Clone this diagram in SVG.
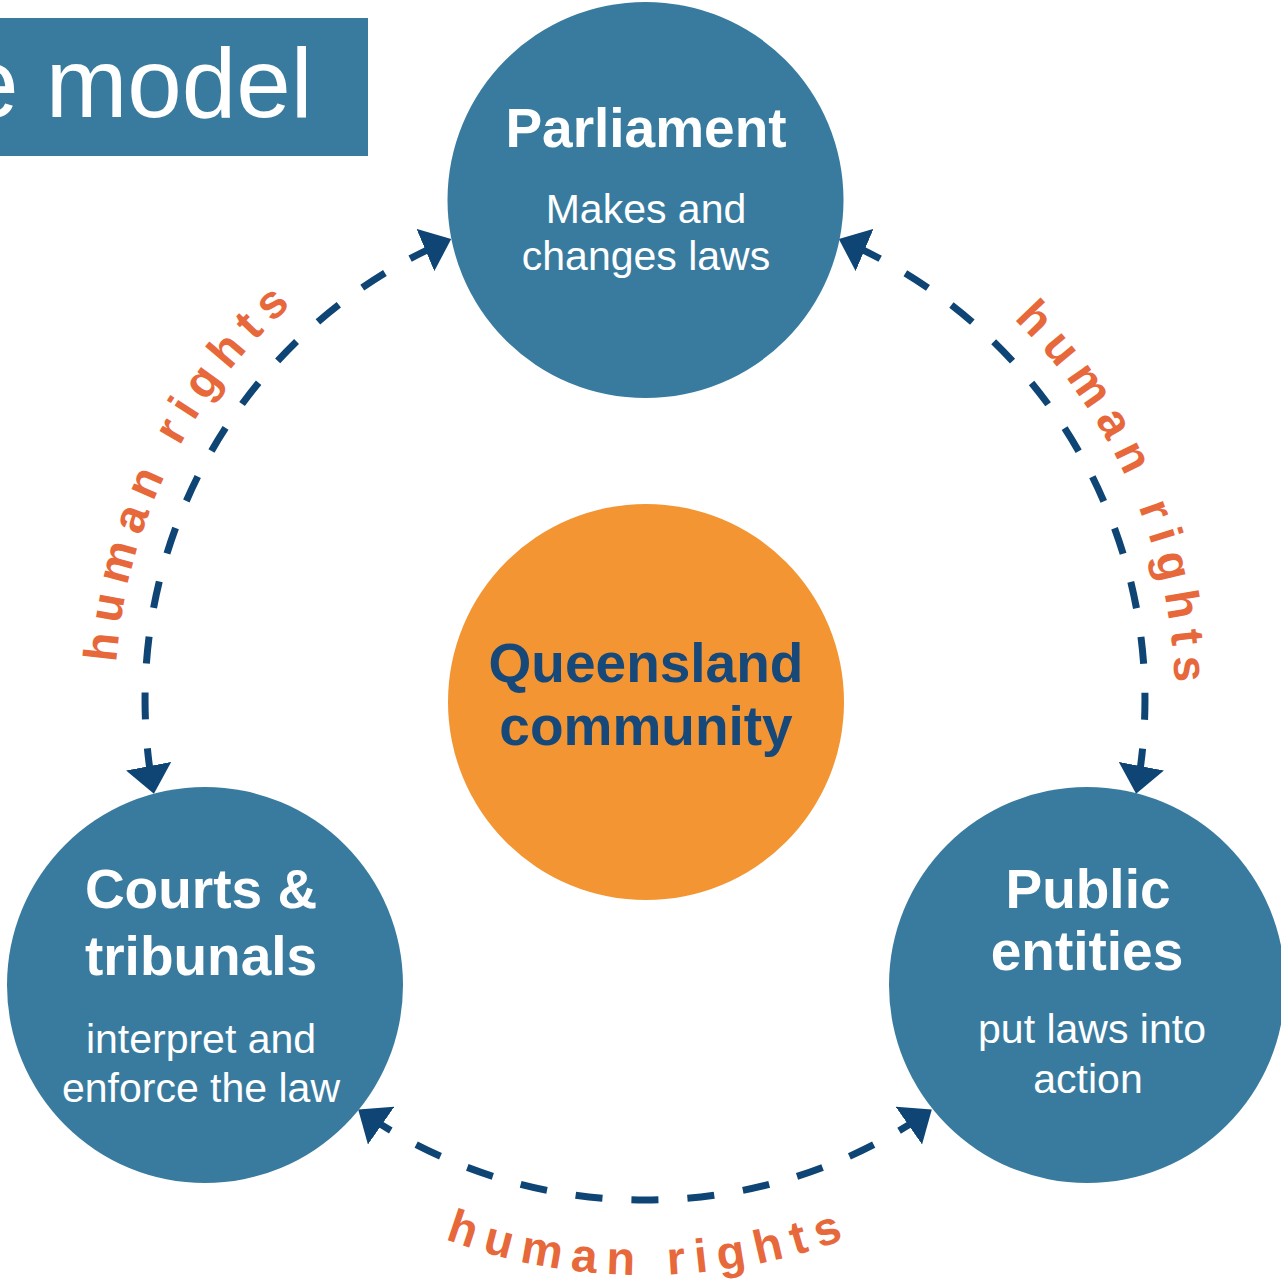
<svg xmlns="http://www.w3.org/2000/svg" width="1281" height="1283" viewBox="0 0 1281 1283">
  <style>
    .node { fill: #387B9F; }
    .core { fill: #F39533; }
    .title { font-family: "Liberation Sans", Arial, sans-serif; font-weight: bold; font-size: 55px; fill: #FFFFFF; text-anchor: middle; }
    .sub { font-family: "Liberation Sans", Arial, sans-serif; font-size: 41px; fill: #FFFFFF; text-anchor: middle; }
    .coretext { font-family: "Liberation Sans", Arial, sans-serif; font-weight: bold; font-size: 55px; fill: #16497A; text-anchor: middle; }
    .link { fill: none; stroke: #0E4574; stroke-width: 7; stroke-dasharray: 27 29; marker-start: url(#arrow); marker-end: url(#arrow); }
    .rights { font-family: "Liberation Sans", Arial, sans-serif; font-weight: bold; font-size: 47px; fill: #E7683A; letter-spacing: 10px; text-anchor: middle; }
  </style>
  <defs>
    <marker id="arrow" markerUnits="userSpaceOnUse" viewBox="0 0 28 46" markerWidth="28" markerHeight="46" refX="28" refY="23" orient="auto-start-reverse">
      <path d="M0,0 L28,23 L0,46 Z" fill="#0E4574"/>
    </marker>
    <!-- label baselines around the ring (centre 645,700) -->
    <path id="arcLeft" d="M147.0,881.3 A530,530 0 0 1 463.7,202.0"/>
    <path id="arcRight" d="M826.3,202.0 A530,530 0 0 1 1143.0,881.3"/>
    <path id="arcBottom" d="M238.4,1106.6 A575,575 0 0 0 1051.6,1106.6"/>
  </defs>

  <rect width="1281" height="1283" fill="#FFFFFF"/>

  <!-- heading banner -->
  <g id="heading">
    <rect x="0" y="18" width="368" height="138" fill="#387B9E"/>
    <text x="-36" y="117" font-family="'Liberation Sans', Arial, sans-serif" font-size="98" fill="#FFFFFF">e model</text>
  </g>

  <!-- dashed two-way connectors on a ring of radius 500 -->
  <g id="connectors">
    <path class="link" d="M153.9,793.7 A500,500 0 0 1 451.2,239.1" stroke-dashoffset="-18.85"/>
    <path class="link" d="M838.8,239.1 A500,500 0 0 1 1136.1,793.7" stroke-dashoffset="-18.85"/>
    <path class="link" d="M931.8,1109.6 A500,500 0 0 1 358.2,1109.6" stroke-dashoffset="-11.95"/>
    <text class="rights"><textPath href="#arcLeft" startOffset="51.8%">human rights</textPath></text>
    <text class="rights"><textPath href="#arcRight" startOffset="51.8%">human rights</textPath></text>
    <text class="rights"><textPath href="#arcBottom" startOffset="50.5%">human rights</textPath></text>
  </g>

  <g id="parliament">
    <circle class="node" cx="645.5" cy="200" r="198"/>
    <text class="title" x="646" y="147" font-size="54">Parliament</text>
    <text class="sub" x="646" y="223">Makes and</text>
    <text class="sub" x="646" y="270">changes laws</text>
  </g>

  <g id="community">
    <circle class="core" cx="646" cy="702" r="198"/>
    <text class="coretext" x="646" y="682">Queensland</text>
    <text class="coretext" x="646" y="745">community</text>
  </g>

  <g id="courts">
    <circle class="node" cx="205" cy="985" r="198"/>
    <text class="title" x="201" y="908">Courts &amp;</text>
    <text class="title" x="201" y="975">tribunals</text>
    <text class="sub" x="201" y="1053">interpret and</text>
    <text class="sub" x="201" y="1102">enforce the law</text>
  </g>

  <g id="public-entities">
    <circle class="node" cx="1087" cy="985" r="198"/>
    <text class="title" x="1088" y="908">Public</text>
    <text class="title" x="1087" y="970">entities</text>
    <text class="sub" x="1092" y="1043">put laws into</text>
    <text class="sub" x="1088" y="1093">action</text>
  </g>
</svg>
